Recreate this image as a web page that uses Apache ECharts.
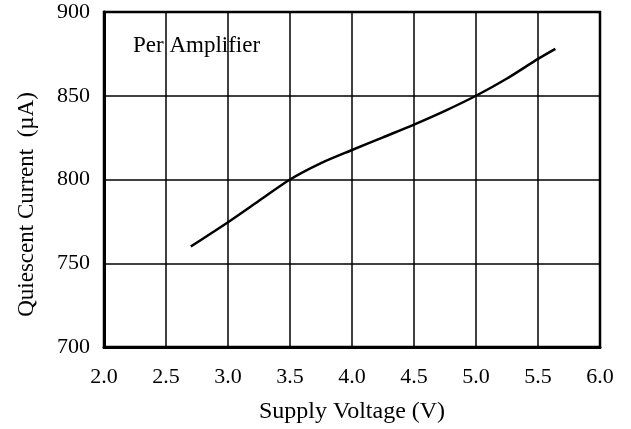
<!DOCTYPE html>
<html>
<head>
<meta charset="utf-8">
<script src="https://cdn.jsdelivr.net/npm/echarts@6/dist/echarts.min.js"></script>
<style>
html,body{margin:0;padding:0;background:#fff;}
#chart{width:631px;height:429px;}
</style>
</head>
<body>
<div id="chart"></div>
<script>
var voltage = [2.7, 3.0, 3.25, 3.5, 3.75, 4.0, 4.25, 4.5, 4.75, 5.0, 5.25, 5.5, 5.64];
var current = [760, 774.5, 787.3, 800, 809.8, 817.6, 825.2, 832.8, 841, 850, 860.3, 872, 878];
var xTicks = ['2.0','2.5','3.0','3.5','4.0','4.5','5.0','5.5','6.0'];
var yTicks = ['700','750','800','850','900'];
var annotation = 'Per Amplifier';

var font = '"Liberation Serif","Times New Roman",serif';
var chart = echarts.init(document.getElementById('chart'), null, {renderer:'canvas'});
var seriesData = voltage.map(function(v,i){return [v, current[i]];});
chart.setOption({
  animation:false,
  backgroundColor:'#fff',
  title:{
    text: annotation, left:128, top:29,
    textStyle:{fontFamily:font, fontSize:23, fontWeight:'normal', color:'#000'}
  },
  grid:{left:104, right:31, top:12, bottom:81, show:true, borderColor:'#000', borderWidth:2.5, backgroundColor:'transparent'},
  xAxis:{
    type:'value', min:2.0, max:6.0, interval:0.5,
    name:'Supply Voltage (V)', nameLocation:'middle', nameGap:53,
    nameTextStyle:{fontFamily:font, fontSize:24, color:'#000'},
    axisLine:{show:true, lineStyle:{color:'#000', width:3}},
    axisTick:{show:false},
    splitLine:{show:true, lineStyle:{color:'#000', width:1.5}},
    axisLabel:{fontFamily:font, fontSize:22, color:'#000', margin:19,
      formatter:function(v){var i=Math.round((v-2)/0.5);return xTicks[i];}}
  },
  yAxis:{
    type:'value', min:700, max:900, interval:50,
    name:'Quiescent Current  (µA)', nameLocation:'middle', nameGap:66,
    nameTextStyle:{fontFamily:font, fontSize:23, color:'#000', padding:[0,50,0,0]},
    axisLine:{show:true, lineStyle:{color:'#000', width:3}},
    axisTick:{show:false},
    splitLine:{show:true, lineStyle:{color:'#000', width:1.5}},
    axisLabel:{fontFamily:font, fontSize:22, color:'#000', margin:14,
      formatter:function(v){var i=Math.round((v-700)/50);return yTicks[i];}}
  },
  series:[{
    type:'line', data:seriesData, smooth:0.25, showSymbol:false,
    lineStyle:{color:'#000', width:2.5}
  }]
});
</script>
</body>
</html>
